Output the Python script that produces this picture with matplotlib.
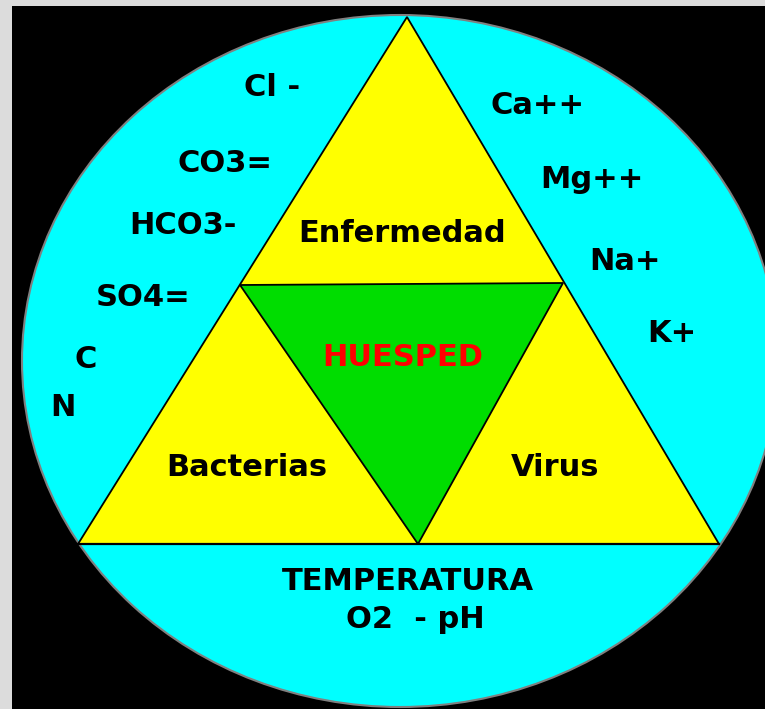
import matplotlib
matplotlib.use('Agg')
from matplotlib import pyplot as plt
from matplotlib.patches import Ellipse, Polygon, Rectangle

# text of the diagram
aniones = ['Cl -', 'CO3=', 'HCO3-', 'SO4=', 'C', 'N']
cationes = ['Ca++', 'Mg++', 'Na+', 'K+']
triangulos = ['Enfermedad', 'Bacterias', 'Virus']
centro = 'HUESPED'
ambiente = ['TEMPERATURA', 'O2  - pH']

# where the labels sit (pixel coords, y down)
pos_aniones = [(272, 88), (225, 163), (183, 226), (143, 297), (86, 360), (63, 407)]
pos_cationes = [(538, 106), (592, 180), (625, 261), (672, 333)]
pos_triangulos = [(402, 233), (247, 467), (555, 467)]
pos_centro = (403, 357)
pos_ambiente = [(408, 582), (415, 620)]

# triangle corners
apex = (407, 17)
left = (78, 544)
right = (719, 544)
mid_l = (240, 285)
mid_r = (563, 283)
mid_b = (418, 544)

fig = plt.figure(figsize=(7.65, 7.09), dpi=100)
fig.patch.set_facecolor('#dcdcdc')
ax = fig.add_axes([0, 0, 1, 1])
ax.set_xlim(0, 765)
ax.set_ylim(709, 0)
ax.axis('off')

ax.add_patch(Rectangle((12, 6), 760, 710, facecolor='black', edgecolor='none'))
ax.add_patch(Ellipse((400, 361), 756, 692, facecolor='#00ffff', edgecolor='#808080', lw=1.5))

# big yellow triangle, then the green one inside
ax.add_patch(Polygon([apex, left, right], closed=True, facecolor='#ffff00', edgecolor='black', lw=1.3))
ax.add_patch(Polygon([mid_l, mid_r, mid_b], closed=True, facecolor='#00dd00', edgecolor='black', lw=1.3))
ax.plot([left[0], right[0]], [left[1], right[1]], color='black', lw=1.6)

fs = 22
for t, (x, y) in zip(aniones, pos_aniones):
    ax.text(x, y, t, fontsize=fs, fontweight='bold', ha='center', va='center', color='black')
for t, (x, y) in zip(cationes, pos_cationes):
    ax.text(x, y, t, fontsize=fs, fontweight='bold', ha='center', va='center', color='black')
for t, (x, y) in zip(triangulos, pos_triangulos):
    ax.text(x, y, t, fontsize=fs, fontweight='bold', ha='center', va='center', color='black')
ax.text(pos_centro[0], pos_centro[1], centro, fontsize=fs, fontweight='bold', ha='center', va='center', color='#ff0000')
for t, (x, y) in zip(ambiente, pos_ambiente):
    ax.text(x, y, t, fontsize=fs, fontweight='bold', ha='center', va='center', color='black')

plt.savefig('out.png', dpi=100, facecolor=fig.get_facecolor())
